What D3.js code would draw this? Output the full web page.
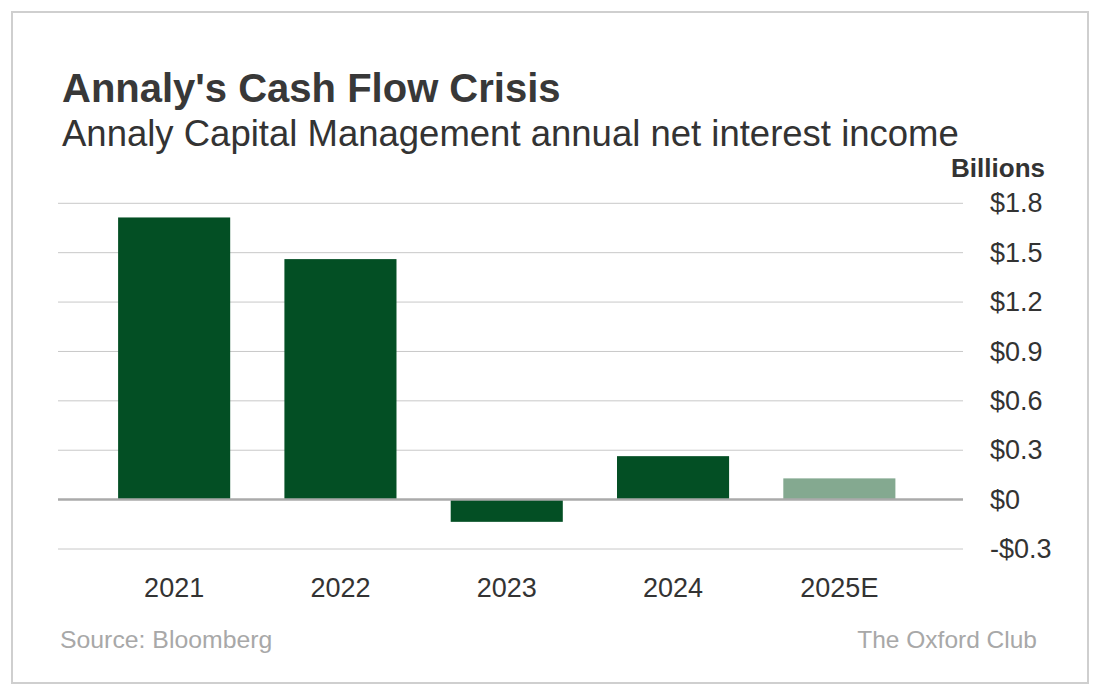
<!DOCTYPE html>
<html>
<head>
<meta charset="utf-8">
<script src="https://cdn.jsdelivr.net/npm/d3@7"></script>
<style>
  body { margin: 0; background: #fff; }
  text { font-family: "Liberation Sans", Arial, sans-serif; fill: #333; }
</style>
</head>
<body>
<div id="chart"></div>
<script>
/**
 * DATA
 * */
const years = ["2021", "2022", "2023", "2024", "2025E"];
const netInterest = [1.714, 1.461, -0.135, 0.264, 0.129];   // billions USD
const estimated = [false, false, false, false, true];
const tickValues = [-0.3, 0, 0.3, 0.6, 0.9, 1.2, 1.5, 1.8];

/**
 * CONSTANTS
 * */
const width = 1100,
  height = 695,
  plot = { left: 58, right: 963, top: 203.3, bottom: 549 };

const data = years.map((y, i) => ({ year: y, value: netInterest[i], est: estimated[i] }));

const svg = d3.select("#chart")
  .append("svg")
  .attr("width", width)
  .attr("height", height);

// frame
svg.append("rect")
  .attr("x", 12).attr("y", 12)
  .attr("width", 1076).attr("height", 671)
  .attr("fill", "#fff")
  .attr("stroke", "#cfcfcf")
  .attr("stroke-width", 2);

// SCALES
const xScale = d3.scaleBand()
  .domain(years)
  .range([91, 922.5])
  .paddingInner(0.326)
  .paddingOuter(0.163);

const yScale = d3.scaleLinear()
  .domain([-0.3, 1.8])
  .range([plot.bottom, plot.top]);

// gridlines
svg.append("g")
  .selectAll("line")
  .data(tickValues.filter(d => d !== 0))
  .join("line")
  .attr("x1", plot.left)
  .attr("x2", plot.right)
  .attr("y1", d => yScale(d))
  .attr("y2", d => yScale(d))
  .attr("stroke", "#c8c8c8")
  .attr("stroke-width", 1);

// bars
svg.append("g")
  .selectAll("rect")
  .data(data)
  .join("rect")
  .attr("x", d => xScale(d.year))
  .attr("width", xScale.bandwidth())
  .attr("y", d => yScale(Math.max(0, d.value)))
  .attr("height", d => Math.abs(yScale(d.value) - yScale(0)))
  .attr("fill", d => d.est ? "#84a990" : "#034f24");

// zero line
svg.append("line")
  .attr("x1", plot.left)
  .attr("x2", plot.right)
  .attr("y1", yScale(0))
  .attr("y2", yScale(0))
  .attr("stroke", "#aaaaaa")
  .attr("stroke-width", 2.5);

// y axis labels (right side)
const yAxis = d3.axisRight(yScale)
  .tickValues(tickValues)
  .tickSize(0)
  .tickPadding(0)
  .tickFormat(d => (d < 0 ? "-" : "") + "$" + Math.abs(d));

svg.append("g")
  .attr("class", "axis y-axis")
  .attr("transform", "translate(990,0)")
  .call(yAxis)
  .call(g => g.select(".domain").remove())
  .selectAll("text")
  .attr("font-size", 27)
  .attr("font-family", "Liberation Sans, Arial, sans-serif")
  .attr("fill", "#333");

// x axis labels
const xAxis = d3.axisBottom(xScale).tickSize(0).tickPadding(0);
svg.append("g")
  .attr("class", "axis x-axis")
  .attr("transform", "translate(0,578)")
  .call(xAxis)
  .call(g => g.select(".domain").remove())
  .selectAll("text")
  .attr("font-size", 27)
  .attr("font-family", "Liberation Sans, Arial, sans-serif")
  .attr("fill", "#333");

// titles
svg.append("text")
  .attr("x", 62).attr("y", 102)
  .attr("font-size", 40)
  .attr("font-weight", "bold")
  .style("fill", "#383838")
  .text("Annaly's Cash Flow Crisis");

svg.append("text")
  .attr("x", 62).attr("y", 146)
  .attr("font-size", 36.5)
  .text("Annaly Capital Management annual net interest income");

svg.append("text")
  .attr("x", 1045).attr("y", 177)
  .attr("text-anchor", "end")
  .attr("font-size", 26)
  .attr("font-weight", "bold")
  .text("Billions");

// footer
svg.append("text")
  .attr("x", 60).attr("y", 648)
  .attr("font-size", 24.8)
  .style("fill", "#a8a8a8")
  .text("Source: Bloomberg");

svg.append("text")
  .attr("x", 1037).attr("y", 648)
  .attr("text-anchor", "end")
  .attr("font-size", 24.5)
  .style("fill", "#a8a8a8")
  .text("The Oxford Club");
</script>
</body>
</html>
